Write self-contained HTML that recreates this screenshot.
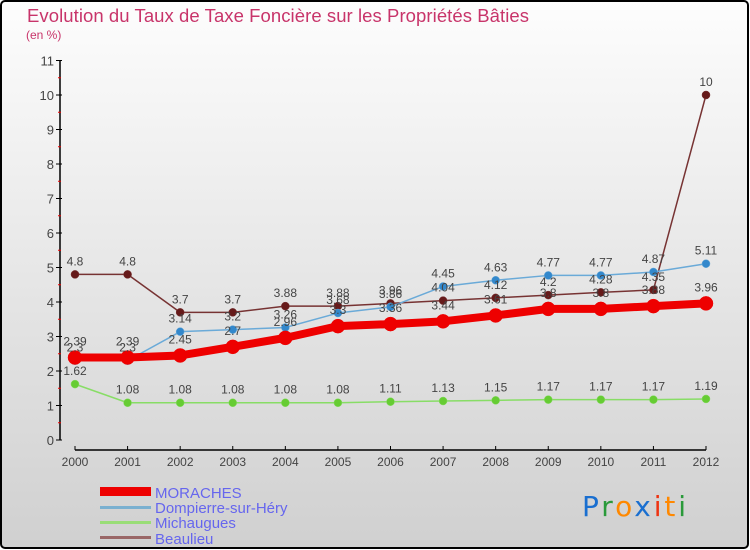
<!DOCTYPE html>
<html><head><meta charset="utf-8"><style>
body{margin:0;width:750px;height:550px;overflow:hidden;font-family:"Liberation Sans",sans-serif}
svg{display:block}
</style></head><body>
<svg id="c" width="750" height="550" xmlns="http://www.w3.org/2000/svg">
<defs><linearGradient id="bg" x1="0" y1="0" x2="0" y2="1"><stop offset="0" stop-color="#fdfdfd"/><stop offset="1" stop-color="#d0d0d0"/></linearGradient></defs>
<rect x="1" y="1" width="747" height="547" rx="4" fill="url(#bg)" stroke="#000" stroke-width="2"/>
<text x="27" y="22" font-size="18.5" fill="#c8346a" textLength="502">Evolution du Taux de Taxe Foncière sur les Propriétés Bâties</text>
<text x="26" y="39" font-size="12" fill="#c8346a">(en %)</text>
<g id="axes"></g><g id="series"></g><g id="labels"></g>
<g font-size="15" fill="#6666ee">
<rect x="100" y="487" width="51" height="9" fill="#ee0000"/>
<text x="155" y="498">MORACHES</text>
<rect x="100" y="506" width="51" height="3" fill="#7ab0d0"/>
<text x="155" y="513">Dompierre-sur-Héry</text>
<rect x="100" y="521" width="51" height="3" fill="#99dd77"/>
<text x="155" y="528">Michaugues</text>
<rect x="100" y="536" width="51" height="3" fill="#996666"/>
<text x="155" y="544">Beaulieu</text>
</g>
<g font-size="28" font-family="'DejaVu Sans',sans-serif">
<text x="582" y="516" textLength="104"><tspan fill="#1a6fd0">P</tspan><tspan fill="#2a9a3a">r</tspan><tspan fill="#ff8800">o</tspan><tspan fill="#1a6fd0">x</tspan><tspan fill="#ee3311">i</tspan><tspan fill="#ff8800">t</tspan><tspan fill="#2a9a3a">i</tspan></text>
</g>
</svg>
<script>
const years=["2000","2001","2002","2003","2004","2005","2006","2007","2008","2009","2010","2011","2012"];
const moraches=[2.39,2.39,2.45,2.7,2.96,3.3,3.36,3.44,3.61,3.8,3.8,3.88,3.96];
const dompierre=[2.3,2.3,3.14,3.2,3.26,3.68,3.86,4.45,4.63,4.77,4.77,4.87,5.11];
const michaugues=[1.62,1.08,1.08,1.08,1.08,1.08,1.11,1.13,1.15,1.17,1.17,1.17,1.19];
const beaulieu=[4.8,4.8,3.7,3.7,3.88,3.88,3.96,4.04,4.12,4.2,4.28,4.35,10];
const yTicks=[0,1,2,3,4,5,6,7,8,9,10,11];
const NS="http://www.w3.org/2000/svg";
const X=i=>75+i*(706-75)/(years.length-1);
const Y=v=>440-v*34.5;
function mk(t,a,p){const e=document.createElementNS(NS,t);for(const k in a)e.setAttribute(k,a[k]);p.appendChild(e);return e;}
const ax=document.getElementById('axes');
let e=mk('line',{x1:60,y1:Y(11),x2:60,y2:Y(0),stroke:'#000','stroke-width':1.5},ax);


e=mk('line',{x1:X(0),y1:450,x2:X(12),y2:450,stroke:'#000','stroke-width':1.5},ax);


yTicks.forEach(v=>{
 mk('line',{x1:56,y1:Y(v),x2:62,y2:Y(v),stroke:'#000'},ax);
 if(v<11)mk('line',{x1:58,y1:Y(v+0.5),x2:61,y2:Y(v+0.5),stroke:'#ee0000'},ax);
 const t=mk('text',{x:54,y:Y(v)+5,'font-size':13,fill:'#444','text-anchor':'end'},ax);t.textContent=v;
 
 
});
years.forEach((y,i)=>{
 mk('line',{x1:X(i),y1:446,x2:X(i),y2:450,stroke:'#000'},ax);
 const t=mk('text',{x:X(i),y:466,'font-size':12,fill:'#444','text-anchor':'middle'},ax);t.textContent=y;
 
 
});
const sg=document.getElementById('series'),lg=document.getElementById('labels');
function series(data,name,color,dot,w,r,dy){
 const pts=data.map((v,i)=>X(i)+','+Y(v)).join(' ');
 const l=mk('polyline',{points:pts,fill:'none',stroke:color,'stroke-width':w,'stroke-linejoin':'round'},sg);
 
 
 data.forEach((v,i)=>{
  const c=mk('circle',{cx:X(i),cy:Y(v),r:r,fill:dot,stroke:color,'stroke-width':0.5},sg);
  
  
  const t=mk('text',{x:X(i),y:Y(v)-dy,'font-size':12,fill:'#444','text-anchor':'middle'},lg);
  t.textContent=v;
  
  
 });
}
series(michaugues,'michaugues','#88dd66','#66cc33',1.5,4,9);
series(beaulieu,'beaulieu','#773333','#661a1a',1.5,4,9);
series(dompierre,'dompierre','#6aaad8','#3388cc',1.5,4,9);
series(moraches,'moraches','#ee0000','#ee0000',8,7,12);
</script>
</body></html>
